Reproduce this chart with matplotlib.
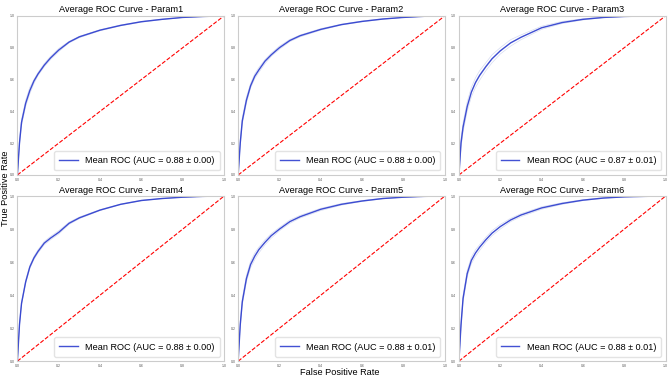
import matplotlib
matplotlib.use("Agg")
import matplotlib.pyplot as plt

plt.rcParams['font.family'] = ['Liberation Sans', 'DejaVu Sans']

titles = ['Average ROC Curve - Param1', 'Average ROC Curve - Param2',
          'Average ROC Curve - Param3', 'Average ROC Curve - Param4',
          'Average ROC Curve - Param5', 'Average ROC Curve - Param6']
auc_labels = ['Mean ROC (AUC = 0.88 ± 0.00)', 'Mean ROC (AUC = 0.88 ± 0.00)',
              'Mean ROC (AUC = 0.87 ± 0.01)', 'Mean ROC (AUC = 0.88 ± 0.00)',
              'Mean ROC (AUC = 0.88 ± 0.01)', 'Mean ROC (AUC = 0.88 ± 0.01)']

# common false positive rate grid
fpr = [0, 0.01, 0.02, 0.04, 0.06, 0.08, 0.1, 0.13, 0.16, 0.2, 0.25, 0.3,
       0.4, 0.5, 0.6, 0.7, 0.8, 0.9, 1.0]

# mean true positive rates, one list per panel
mean_p1 = [0, 0.20, 0.33, 0.45, 0.53, 0.59, 0.635, 0.69, 0.735, 0.785, 0.835, 0.868,
           0.91, 0.94, 0.963, 0.978, 0.99, 0.996, 1.0]
mean_p2 = [0, 0.20, 0.34, 0.47, 0.56, 0.62, 0.66, 0.715, 0.755, 0.80, 0.845, 0.875,
           0.915, 0.945, 0.965, 0.98, 0.99, 0.997, 1.0]
mean_p3 = [0, 0.20, 0.30, 0.43, 0.52, 0.58, 0.625, 0.68, 0.73, 0.78, 0.83, 0.865,
           0.925, 0.958, 0.978, 0.99, 0.996, 0.999, 1.0]
mean_p4 = [0, 0.22, 0.35, 0.48, 0.57, 0.625, 0.665, 0.715, 0.745, 0.78, 0.835, 0.868,
           0.915, 0.95, 0.973, 0.985, 0.993, 0.998, 1.0]
mean_p5 = [0, 0.22, 0.36, 0.50, 0.585, 0.635, 0.675, 0.72, 0.76, 0.80, 0.845, 0.875,
           0.92, 0.95, 0.97, 0.985, 0.993, 0.998, 1.0]
mean_p6 = [0, 0.22, 0.38, 0.53, 0.61, 0.655, 0.69, 0.735, 0.775, 0.815, 0.855, 0.885,
           0.928, 0.955, 0.975, 0.988, 0.995, 0.998, 1.0]

# individual fold curves (faint lines)
folds_p1 = [[0, 0.22, 0.35, 0.47, 0.55, 0.60, 0.645, 0.70, 0.745, 0.795, 0.84, 0.872, 0.913, 0.943, 0.965, 0.98, 0.99, 0.997, 1.0],
            [0, 0.18, 0.31, 0.43, 0.51, 0.575, 0.625, 0.68, 0.725, 0.775, 0.83, 0.863, 0.906, 0.937, 0.96, 0.976, 0.989, 0.995, 1.0],
            [0, 0.20, 0.34, 0.45, 0.53, 0.595, 0.635, 0.69, 0.735, 0.785, 0.835, 0.87, 0.91, 0.94, 0.964, 0.978, 0.99, 0.996, 1.0]]
folds_p2 = [[0, 0.22, 0.36, 0.49, 0.575, 0.635, 0.675, 0.725, 0.765, 0.81, 0.852, 0.88, 0.92, 0.948, 0.968, 0.982, 0.99, 0.997, 1.0],
            [0, 0.18, 0.32, 0.45, 0.545, 0.605, 0.645, 0.70, 0.745, 0.79, 0.838, 0.868, 0.91, 0.942, 0.962, 0.978, 0.99, 0.997, 1.0],
            [0, 0.20, 0.34, 0.47, 0.56, 0.62, 0.66, 0.72, 0.755, 0.80, 0.845, 0.877, 0.915, 0.945, 0.965, 0.98, 0.99, 0.997, 1.0]]
folds_p3 = [[0, 0.23, 0.33, 0.46, 0.55, 0.61, 0.655, 0.705, 0.755, 0.80, 0.85, 0.88, 0.935, 0.965, 0.982, 0.992, 0.997, 0.999, 1.0],
            [0, 0.17, 0.27, 0.40, 0.49, 0.55, 0.595, 0.655, 0.705, 0.76, 0.81, 0.85, 0.915, 0.952, 0.974, 0.988, 0.995, 0.999, 1.0],
            [0, 0.21, 0.31, 0.43, 0.52, 0.585, 0.63, 0.685, 0.73, 0.78, 0.83, 0.867, 0.925, 0.958, 0.978, 0.99, 0.996, 0.999, 1.0]]
folds_p4 = [[0, 0.23, 0.36, 0.49, 0.58, 0.635, 0.675, 0.725, 0.755, 0.79, 0.842, 0.873, 0.918, 0.952, 0.975, 0.986, 0.993, 0.998, 1.0],
            [0, 0.21, 0.34, 0.47, 0.56, 0.615, 0.655, 0.705, 0.735, 0.77, 0.828, 0.863, 0.912, 0.948, 0.971, 0.984, 0.993, 0.998, 1.0],
            [0, 0.22, 0.35, 0.48, 0.57, 0.625, 0.665, 0.715, 0.745, 0.78, 0.835, 0.868, 0.915, 0.95, 0.973, 0.985, 0.993, 0.998, 1.0]]
folds_p5 = [[0, 0.24, 0.38, 0.52, 0.605, 0.655, 0.69, 0.735, 0.772, 0.81, 0.855, 0.883, 0.926, 0.955, 0.973, 0.987, 0.993, 0.998, 1.0],
            [0, 0.20, 0.34, 0.48, 0.565, 0.615, 0.655, 0.705, 0.745, 0.79, 0.835, 0.867, 0.912, 0.945, 0.967, 0.983, 0.993, 0.998, 1.0],
            [0, 0.22, 0.36, 0.50, 0.59, 0.64, 0.68, 0.72, 0.76, 0.80, 0.845, 0.875, 0.92, 0.95, 0.97, 0.985, 0.993, 0.998, 1.0]]
folds_p6 = [[0, 0.24, 0.40, 0.55, 0.63, 0.675, 0.705, 0.75, 0.79, 0.828, 0.865, 0.893, 0.935, 0.96, 0.978, 0.99, 0.995, 0.998, 1.0],
            [0, 0.20, 0.36, 0.51, 0.59, 0.635, 0.67, 0.72, 0.76, 0.80, 0.845, 0.875, 0.92, 0.95, 0.972, 0.986, 0.995, 0.998, 1.0],
            [0, 0.22, 0.38, 0.53, 0.61, 0.655, 0.69, 0.735, 0.775, 0.815, 0.855, 0.885, 0.928, 0.955, 0.975, 0.988, 0.995, 0.998, 1.0]]

means = [mean_p1, mean_p2, mean_p3, mean_p4, mean_p5, mean_p6]
folds = [folds_p1, folds_p2, folds_p3, folds_p4, folds_p5, folds_p6]
ticks = [0, 0.2, 0.4, 0.6, 0.8, 1.0]

fig, axes = plt.subplots(2, 3, figsize=(6.69, 3.77), dpi=100,
                         gridspec_kw={'height_ratios': [159, 165]})
fig.subplots_adjust(left=0.026, right=0.995, top=0.958, bottom=0.042,
                    wspace=0.068, hspace=0.13)

for i, ax in enumerate(axes.flat):
    for f in folds[i]:
        ax.plot(fpr, f, color='#8a9ad8', lw=0.5, alpha=0.35)
    ax.plot([0, 1], [0, 1], linestyle='--', color='red', lw=0.8)
    ax.plot(fpr, means[i], color='#2233cc', lw=1.0, alpha=0.85,
            label=auc_labels[i])
    ax.set_xlim(0, 1)
    ax.set_ylim(0, 1)
    ax.set_xticks(ticks)
    ax.set_yticks(ticks)
    ax.set_xticklabels(['%.1f' % t for t in ticks])
    ax.set_yticklabels(['%.1f' % t for t in ticks])
    ax.tick_params(length=0, labelsize=2.5, labelcolor='#555555', pad=2)
    for s in ax.spines.values():
        s.set_color('#cccccc')
        s.set_linewidth(0.8)
    ax.set_title(titles[i], fontsize=6.6, pad=2.5)
    ax.legend(loc='lower right', fontsize=6.6, edgecolor='#dddddd',
              borderpad=0.55, handlelength=2.0)

fig.text(0.508, 0.0, 'False Positive Rate', ha='center', va='bottom', fontsize=6.6)
fig.text(0.002, 0.5, 'True Positive Rate', ha='left', va='center',
         rotation=90, fontsize=6.6)

fig.savefig('out.png', dpi=100)
